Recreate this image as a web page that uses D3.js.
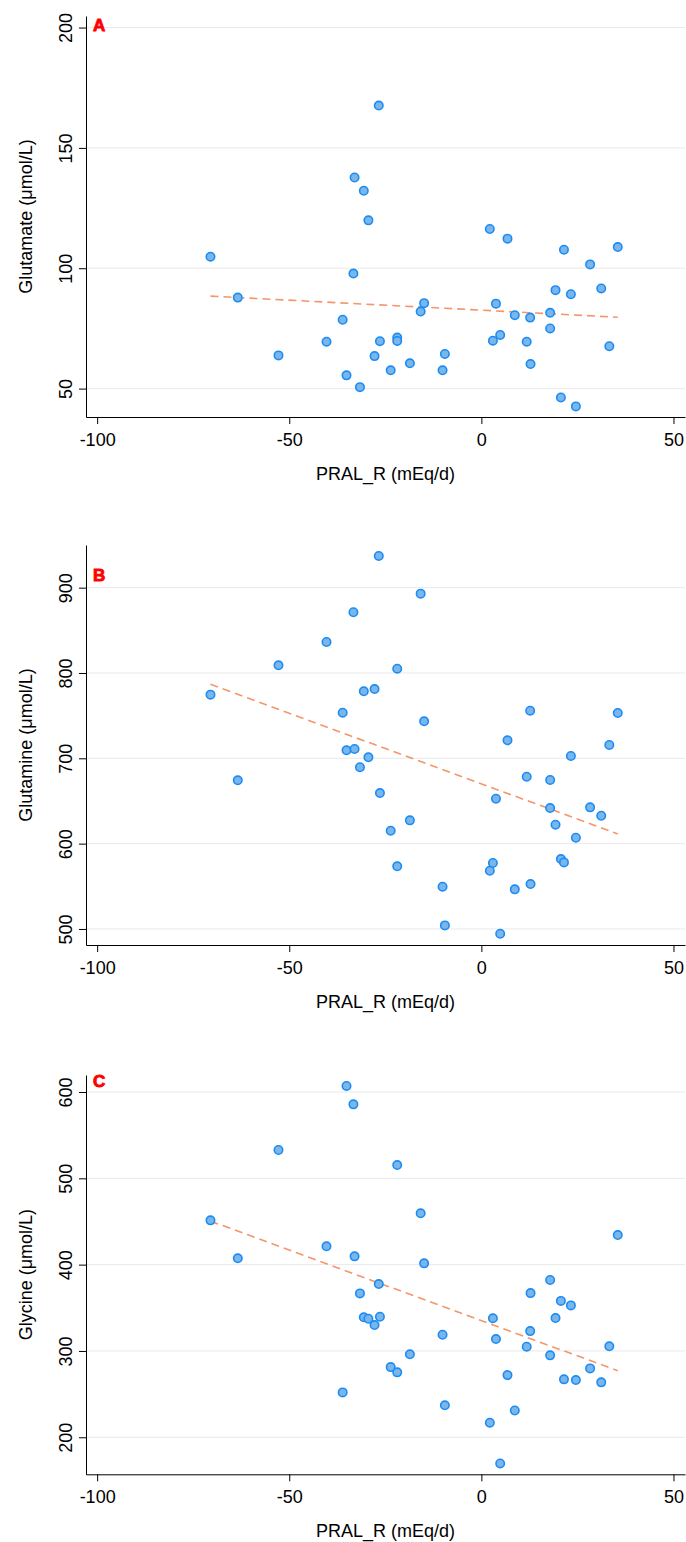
<!DOCTYPE html>
<html>
<head>
<meta charset="utf-8">
<script src="https://cdn.jsdelivr.net/npm/d3@7"></script>
<style>
  body { margin: 0; background: #fff; }
  text { font-family: "Liberation Sans", Arial, sans-serif; }
</style>
</head>
<body>
<div id="chart"></div>
<script>
/**
 * PRAL_R of every subject (mEq/d), shared by the three panels
 */
const pralR = [-70.5, -63.4, -52.8, -40.3, -36.1, -35.1, -33.3, -33.0, -31.6, -30.6,
  -29.4, -27.8, -26.7, -26.4, -23.6, -21.9, -21.9, -18.6, -15.8, -14.9,
  -10.1, -9.5, 2.2, 3.0, 3.8, 4.9, 6.8, 8.7, 11.8, 12.7,
  12.8, 17.9, 17.9, 19.3, 20.7, 21.5, 23.3, 24.6, 28.3, 31.2,
  33.3, 35.5];

/**
 * Glutamate of every subject (µmol/L)
 */
const glutamate = [104.8, 87.8, 63.8, 69.5, 78.6, 55.5, 97.8, 137.7, 50.6, 132.2,
  119.9, 63.5, 167.6, 69.7, 57.6, 71.2, 69.8, 60.5, 82.0, 85.5,
  57.6, 64.4, 116.3, 69.9, 85.3, 72.3, 112.3, 80.5, 69.5, 79.5,
  60.2, 81.5, 75.0, 90.9, 46.3, 107.7, 89.2, 42.6, 101.6, 91.6,
  67.6, 108.8];

/**
 * Glutamine of every subject (µmol/L)
 */
const glutamine = [774.6, 674.2, 809, 836.3, 753.5, 709.4, 871.2, 710.9, 689.5, 778.5,
  701.2, 781.2, 937.2, 659.3, 615.1, 805, 573.4, 627.3, 893, 743.4,
  549.5, 504.2, 568.2, 577.3, 652.6, 494.4, 721.1, 546.4, 678.4, 755.8,
  552.6, 674.6, 641.7, 622.2, 581.9, 578, 702.7, 606.9, 642.5, 632.7,
  715.6, 753.1];

/**
 * Glycine of every subject (µmol/L)
 */
const glycine = [451.3, 407.3, 532.8, 421.2, 252, 607, 585.7, 409.6, 366.7, 339,
  337.3, 330, 377.5, 339.6, 281.3, 515.4, 275.2, 296.1, 459.5, 401.5,
  318.8, 237, 216.9, 337.8, 313.8, 169.7, 272, 231, 304.9, 323,
  367, 382.2, 294.9, 338.1, 358, 267.1, 352.8, 266.3, 279.8, 263.6,
  305.4, 434.3];

/**
 * Tick values of the axes
 */
const xTicks = [-100, -50, 0, 50];
const glutamateTicks = [50, 100, 150, 200];
const glutamineTicks = [500, 600, 700, 800, 900];
const glycineTicks = [200, 300, 400, 500, 600];

/**
 * Texts
 */
const panelLetters = ["A", "B", "C"];
const yTitles = ["Glutamate (μmol/L)", "Glutamine (μmol/L)", "Glycine (μmol/L)"];
const xTitle = "PRAL_R (mEq/d)";

/* page and plot geometry */
const totalWidth = 686;
const totalHeight = 1542;
const plotLeft = 86;
const plotRight = 685;
const xDomain = [-102.9, 53];
const fontSize = "18px";

/* one entry per panel: vertical placement, y domain, position of the letter */
const panels = [
  { top: 16, bottom: 417, yDomain: [38.2, 204.8], values: glutamate, ticks: glutamateTicks, letterY: 30.5 },
  { top: 545, bottom: 945, yDomain: [481.2, 950], values: glutamine, ticks: glutamineTicks, letterY: 581 },
  { top: 1075, bottom: 1474.3, yDomain: [157.1, 619.7], values: glycine, ticks: glycineTicks, letterY: 1087 }
];

const dotFill = "#7ab6ea";
const dotStroke = "#1a8cf5";
const fitColour = "#f4956a";
const gridColour = "#e9e9e9";

var svg = d3.select("#chart")
  .append("svg")
    .attr("width", totalWidth)
    .attr("height", totalHeight);

var x = d3.scaleLinear().domain(xDomain).range([plotLeft, plotRight]);

/* least squares line of y on x */
function fitLine(xs, ys) {
  var mx = d3.mean(xs), my = d3.mean(ys);
  var sxy = 0, sxx = 0;
  xs.forEach((v, i) => {
    sxy += (v - mx) * (ys[i] - my);
    sxx += (v - mx) * (v - mx);
  });
  var slope = sxy / sxx;
  return v => my + slope * (v - mx);
}

panels.forEach((p, k) => {
  var y = d3.scaleLinear().domain(p.yDomain).range([p.bottom, p.top]);
  var g = svg.append("g");

  /* grid lines */
  g.selectAll("line.grid")
    .data(p.ticks)
    .enter().append("line")
      .attr("class", "grid")
      .attr("x1", plotLeft)
      .attr("x2", plotRight)
      .attr("y1", d => y(d))
      .attr("y2", d => y(d))
      .attr("stroke", gridColour)
      .attr("stroke-width", 1);

  /* y axis with rotated labels */
  var yAxis = g.append("g")
    .attr("transform", "translate(" + plotLeft + ",0)")
    .call(d3.axisLeft(y).tickValues(p.ticks).tickSize(7).tickSizeOuter(0).tickFormat(d => String(d)));
  yAxis.selectAll("text")
    .attr("x", null).attr("dy", null)
    .attr("text-anchor", "middle")
    .attr("transform", "translate(-14,0) rotate(-90)")
    .attr("fill", "#000")
    .style("font-size", fontSize);

  /* x axis */
  var xAxis = g.append("g")
    .attr("transform", "translate(0," + p.bottom + ")")
    .call(d3.axisBottom(x).tickValues(xTicks).tickSize(7).tickSizeOuter(0).tickFormat(d => String(d)));
  xAxis.selectAll("text")
    .attr("y", 28.5).attr("dy", null)
    .attr("fill", "#000")
    .style("font-size", fontSize);
  g.selectAll(".domain, .tick line").attr("stroke", "#000");

  /* regression line */
  var f = fitLine(pralR, p.values);
  var ext = d3.extent(pralR);
  g.append("line")
    .attr("x1", x(ext[0]))
    .attr("x2", x(ext[1]))
    .attr("y1", y(f(ext[0])))
    .attr("y2", y(f(ext[1])))
    .attr("stroke", fitColour)
    .attr("stroke-width", 1.6)
    .attr("stroke-dasharray", "8,5");

  /* points */
  g.selectAll("circle")
    .data(pralR)
    .enter().append("circle")
      .attr("cx", d => x(d))
      .attr("cy", (d, i) => y(p.values[i]))
      .attr("r", 4.2)
      .attr("fill", dotFill)
      .attr("stroke", dotStroke)
      .attr("stroke-width", 1.6);

  /* titles */
  g.append("text")
    .attr("transform", "translate(32," + ((p.top + p.bottom) / 2) + ") rotate(-90)")
    .attr("text-anchor", "middle")
    .style("font-size", fontSize)
    .text(yTitles[k]);

  g.append("text")
    .attr("x", (plotLeft + plotRight) / 2)
    .attr("y", p.bottom + 63)
    .attr("text-anchor", "middle")
    .style("font-size", fontSize)
    .text(xTitle);

  g.append("text")
    .attr("x", 93)
    .attr("y", p.letterY)
    .attr("fill", "#ff0000")
    .attr("stroke", "#ff0000")
    .attr("stroke-width", 0.9)
    .style("font-size", "17px")
    .style("font-weight", "bold")
    .text(panelLetters[k]);
});
</script>
</body>
</html>
